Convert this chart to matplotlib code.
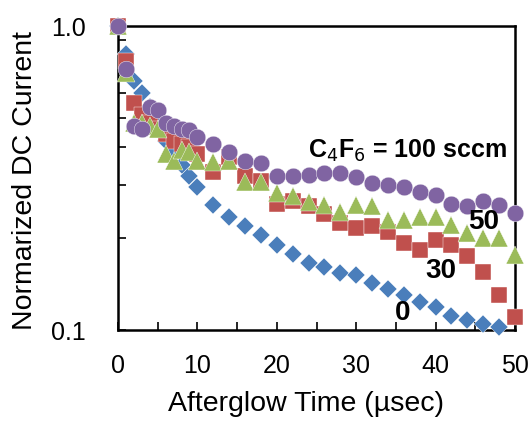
import matplotlib
matplotlib.use("Agg")
import matplotlib.pyplot as plt
from matplotlib.ticker import FixedLocator, FixedFormatter, MultipleLocator, NullFormatter

plt.rcParams['font.family'] = ['Liberation Sans', 'DejaVu Sans']

# Afterglow time (usec): 1 us steps to 10, then 2 us steps
time_us = [0, 1, 2, 3, 4, 5, 6, 7, 8, 9, 10,
           12, 14, 16, 18, 20, 22, 24, 26, 28, 30,
           32, 34, 36, 38, 40, 42, 44, 46, 48, 50]

# Normalized DC current for each C4F6 flow (sccm)
flow_0 = [1.0, 0.81, 0.66, 0.60, 0.54, 0.48, 0.42, 0.39, 0.35, 0.32, 0.295,
          0.257, 0.235, 0.220, 0.206, 0.191, 0.178, 0.166, 0.161, 0.154, 0.152,
          0.143, 0.136, 0.130, 0.124, 0.119, 0.111, 0.108, 0.105, 0.102]
flow_30 = [1.0, 0.77, 0.56, 0.51, 0.48, 0.46, 0.44, 0.42, 0.41, 0.40, 0.38,
           0.33, 0.37, 0.32, 0.31, 0.26, 0.265, 0.255, 0.24, 0.225, 0.217,
           0.22, 0.21, 0.194, 0.183, 0.197, 0.19, 0.175, 0.155, 0.13, 0.11]
flow_50 = [1.0, 0.70, 0.48, 0.48, 0.47, 0.46, 0.38, 0.36, 0.39, 0.385, 0.36,
           0.357, 0.36, 0.307, 0.307, 0.282, 0.275, 0.264, 0.258, 0.245, 0.258,
           0.255, 0.23, 0.23, 0.235, 0.235, 0.222, 0.208, 0.20, 0.20, 0.177]
flow_100 = [1.0, 0.72, 0.47, 0.46, 0.54, 0.53, 0.48, 0.47, 0.46, 0.455, 0.43,
            0.41, 0.385, 0.36, 0.355, 0.32, 0.322, 0.323, 0.328, 0.328, 0.318,
            0.304, 0.30, 0.296, 0.284, 0.277, 0.26, 0.256, 0.265, 0.258, 0.243]

fig = plt.figure(figsize=(5.29, 4.22), dpi=100)
ax = fig.add_axes([118 / 529, 1 - 330 / 422, (515 - 118) / 529, (330 - 26) / 422])

common = dict(linestyle='none', clip_on=False, zorder=3,
              markeredgecolor='white', markeredgewidth=0.3)
ax.plot(time_us[:len(flow_0)], flow_0, marker='D', markersize=9,
        color='#4A7EBB', **common)
ax.plot(time_us, flow_30, marker='s', markersize=12,
        color='#C0504D', **common)
ax.plot(time_us, flow_50, marker='^', markersize=12.5,
        color='#9BBB59', **common)
ax.plot(time_us, flow_100, marker='o', markersize=12,
        color='#8064A2', **common)

ax.set_yscale('log')
ax.set_xlim(0, 50)
ax.set_ylim(0.1, 1.0)

ax.xaxis.set_major_locator(MultipleLocator(10))
ax.xaxis.set_minor_locator(MultipleLocator(5))
ax.yaxis.set_major_locator(FixedLocator([0.1, 1.0]))
ax.yaxis.set_major_formatter(FixedFormatter(['0.1', '1.0']))
ax.yaxis.set_minor_locator(FixedLocator([0.2, 0.3, 0.4, 0.5, 0.6, 0.7, 0.8, 0.9]))
ax.yaxis.set_minor_formatter(NullFormatter())

ax.tick_params(axis='x', which='both', direction='in', length=6, width=1.2,
               labelsize=18, pad=17, top=False)
ax.tick_params(axis='y', which='both', direction='in', length=6, width=1.2,
               labelsize=18, pad=23, right=False)

for sp in ax.spines.values():
    sp.set_linewidth(1.8)
    sp.set_color('black')

fig.text(306 / 529, 1 - 404 / 422, 'Afterglow Time (\u00b5sec)', fontsize=20.5,
         ha='center', va='center')
fig.text(25 / 529, 1 - 180 / 422, 'Normarized DC Current', fontsize=20.5,
         rotation=90, ha='center', va='center')

ax.text(23.9, 0.368, 'C$_4$F$_6$ = 100 sccm', fontsize=18, fontweight='bold',
        ha='left', va='baseline', zorder=4)
ax.text(46.1, 0.226, '50', fontsize=20, fontweight='bold', ha='center', va='center', zorder=4)
ax.text(40.6, 0.156, '30', fontsize=20, fontweight='bold', ha='center', va='center', zorder=4)
ax.text(35.9, 0.114, '0', fontsize=20, fontweight='bold', ha='center', va='center', zorder=4)

fig.savefig('out.png', dpi=100)
